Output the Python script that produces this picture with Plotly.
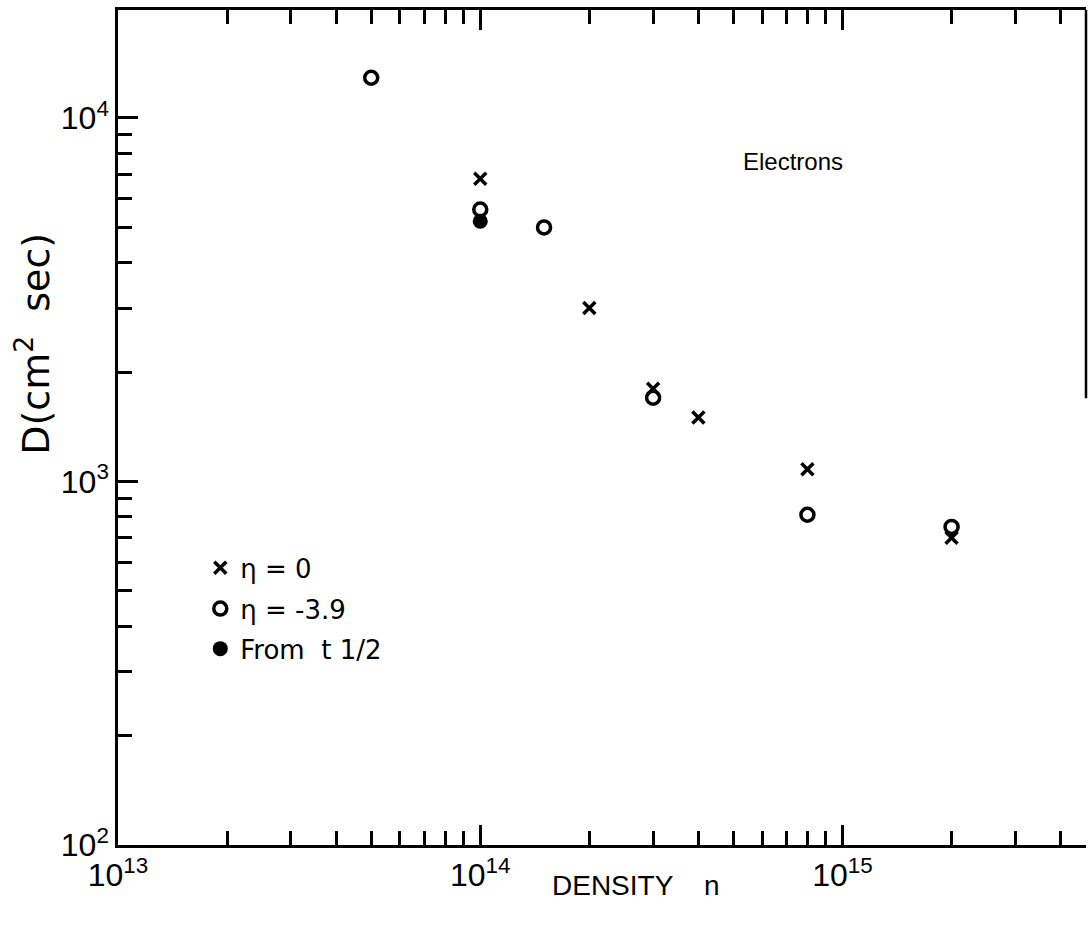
import numpy as np
import plotly.graph_objects as go

# Diffusion coefficient of electrons versus density
eta0_n = [1e14, 2e14, 3e14, 4e14, 8e14, 2e15]
eta0_D = [6800, 3000, 1800, 1500, 1080, 700]

eta39_n = [5e13, 1e14, 1.5e14, 3e14, 8e14, 2e15]
eta39_D = [12900, 5600, 5000, 1700, 810, 750]

half_n = [1e14]
half_D = [5200]

x_major = [1e13, 1e14, 1e15]
x_major_text = ["10<sup>13</sup>", "10<sup>14</sup>", "10<sup>15</sup>"]
y_major = [1e2, 1e3, 1e4]
y_major_text = ["10<sup>2</sup>", "10<sup>3</sup>", "10<sup>4</sup>"]

TICK_FONT = "Liberation Sans, DejaVu Sans, sans-serif"
TEXT_FONT = "DejaVu Sans, Liberation Sans, sans-serif"
INK = "black"

x_minor = [m * 10.0 ** e for e in (13, 14, 15) for m in range(2, 10) if m * 10.0 ** e < 4.7e15]
y_minor = [m * 10.0 ** e for e in (2, 3) for m in range(2, 10)]

fig = go.Figure()

fig.add_trace(go.Scatter(
    x=eta0_n, y=eta0_D, mode="markers", name="η = 0", legend="legend",
    marker=dict(symbol="x-thin", size=12, color=INK, line=dict(color=INK, width=3.5)),
))
fig.add_trace(go.Scatter(
    x=eta39_n, y=eta39_D, mode="markers", name="η = -3.9", legend="legend2",
    marker=dict(symbol="circle-open", size=13, color=INK, line=dict(color=INK, width=3.5)),
))
fig.add_trace(go.Scatter(
    x=half_n, y=half_D, mode="markers", name="From  t 1/2", legend="legend3",
    marker=dict(symbol="circle", size=15, color=INK),
))

fig.add_annotation(
    x=np.log10(7.3e14), y=np.log10(7600), xref="x", yref="y",
    text="Electrons", showarrow=False,
    font=dict(family=TICK_FONT, size=24, color=INK),
)

# axis titles
fig.add_annotation(
    x=0.535, y=-0.048, xref="paper", yref="paper", xanchor="center", yanchor="middle",
    text="DENSITY    n", showarrow=False,
    font=dict(family=TICK_FONT, size=28, color=INK),
)
fig.add_annotation(
    x=-0.088, y=0.6, xref="paper", yref="paper", xanchor="center", yanchor="middle",
    text="D(cm<sup>2</sup>  sec)", textangle=-90, showarrow=False,
    font=dict(family=TEXT_FONT, size=38, color=INK),
)

# right border, drawn only over its upper part
fig.add_shape(type="line", xref="paper", yref="paper", x0=1, x1=1, y0=0.535, y1=1,
              line=dict(color=INK, width=2.5))

fig.update_xaxes(
    type="log", range=[13, np.log10(4.7e15)],
    tickmode="array", tickvals=x_major, ticktext=x_major_text,
    ticks="inside", ticklen=20, tickwidth=2.5, tickcolor=INK,
    minor=dict(tickmode="array", tickvals=x_minor, ticks="inside", ticklen=14,
               tickwidth=2.5, tickcolor=INK, showgrid=False),
    showline=True, linecolor=INK, linewidth=2.5, mirror="ticks",
    showgrid=False, zeroline=False,
    tickfont=dict(family=TICK_FONT, size=32, color=INK),
)
fig.update_yaxes(
    type="log", range=[2, 4.297],
    tickmode="array", tickvals=y_major, ticktext=y_major_text,
    ticks="inside", ticklen=20, tickwidth=2.5, tickcolor=INK,
    minor=dict(tickmode="array", tickvals=y_minor, ticks="inside", ticklen=14,
               tickwidth=2.5, tickcolor=INK, showgrid=False),
    showline=True, linecolor=INK, linewidth=2.5, mirror=False,
    showgrid=False, zeroline=False,
    tickfont=dict(family=TICK_FONT, size=32, color=INK),
)

legend_style = dict(x=0.085, xanchor="left", yanchor="middle",
                    bgcolor="rgba(0,0,0,0)", borderwidth=0,
                    font=dict(family=TEXT_FONT, size=26, color=INK),
                    itemwidth=30)

fig.update_layout(
    width=1088, height=932,
    margin=dict(l=118, r=2, t=10, b=87),
    paper_bgcolor="white", plot_bgcolor="white",
    showlegend=True,
    legend=dict(y=0.332, **legend_style),
    legend2=dict(y=0.283, **legend_style),
    legend3=dict(y=0.235, **legend_style),
)

fig.write_html("out.html")
